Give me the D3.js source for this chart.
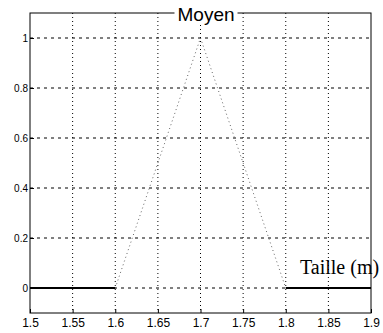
<!DOCTYPE html>
<html>
<head>
<meta charset="utf-8">
<script src="https://cdn.jsdelivr.net/npm/d3@7/dist/d3.min.js"></script>
<style>
  html, body { margin: 0; padding: 0; background: #fff; }
  svg { display: block; }
</style>
</head>
<body>
<svg id="chart" width="383" height="333"></svg>
<script>
// Membership function "Moyen" over height (m)
const tailles = [1.5, 1.6, 1.7, 1.8, 1.9];
const degres  = [0, 0, 1, 0, 0];
const xTicks  = [1.5, 1.55, 1.6, 1.65, 1.7, 1.75, 1.8, 1.85, 1.9];
const xTickLabels = ["1.5", "1.55", "1.6", "1.65", "1.7", "1.75", "1.8", "1.85", "1.9"];
const yTicks  = [0, 0.2, 0.4, 0.6, 0.8, 1];
const yTickLabels = ["0", "0.2", "0.4", "0.6", "0.8", "1"];
const titre = "Moyen";
const axeLabel = "Taille (m)";

const svg = d3.select("#chart");
const mLeft = 30, mRight = 371, mTop = 13, mBottom = 313;

const x = d3.scaleLinear().domain([1.5, 1.9]).range([mLeft, mRight]);
const y = d3.scaleLinear().domain([-0.1, 1.1]).range([mBottom, mTop]);

// grid
const grid = svg.append("g");
grid.selectAll("line.v").data(xTicks.slice(1, -1)).join("line")
  .attr("class", "v")
  .attr("x1", d => x(d)).attr("x2", d => x(d))
  .attr("y1", mTop).attr("y2", mBottom)
  .attr("stroke", "#000").attr("stroke-width", 1)
  .attr("stroke-dasharray", "1,3");
grid.selectAll("line.h").data(yTicks).join("line")
  .attr("class", "h")
  .attr("x1", mLeft).attr("x2", mRight)
  .attr("y1", d => y(d)).attr("y2", d => y(d))
  .attr("stroke", "#000").attr("stroke-width", 1)
  .attr("stroke-dasharray", "3,4");

// axes
const xAxis = d3.axisBottom(x).tickValues(xTicks)
  .tickFormat((d, i) => xTickLabels[i]).tickSize(-4).tickPadding(5);
const yAxis = d3.axisLeft(y).tickValues(yTicks)
  .tickFormat((d, i) => yTickLabels[i]).tickSize(-4).tickPadding(2);

const gx = svg.append("g").attr("transform", `translate(0,${mBottom})`).call(xAxis);
const gy = svg.append("g").attr("transform", `translate(${mLeft},0)`).call(yAxis);
[gx, gy].forEach(g => {
  g.select(".domain").remove();
  g.selectAll("line").attr("stroke", "#000");
  g.selectAll("text").attr("fill", "#000")
    .style("font-family", "Liberation Sans, Arial, sans-serif");
});
gx.selectAll("text").style("font-size", "12px");
gy.selectAll("text").style("font-size", "10px");

// frame
svg.append("rect")
  .attr("x", mLeft).attr("y", mTop)
  .attr("width", mRight - mLeft).attr("height", mBottom - mTop)
  .attr("fill", "none").attr("stroke", "#000").attr("stroke-width", 1);

// membership curve: flat parts solid, slopes dotted
const pts = tailles.map((t, i) => [t, degres[i]]);
for (let i = 0; i < pts.length - 1; i++) {
  const a = pts[i], b = pts[i + 1];
  const flat = a[1] === b[1];
  svg.append("line")
    .attr("x1", x(a[0])).attr("y1", y(a[1]))
    .attr("x2", x(b[0])).attr("y2", y(b[1]))
    .attr("stroke", flat ? "#000" : "#666")
    .attr("stroke-width", flat ? 2 : 1)
    .attr("stroke-dasharray", flat ? null : "1,3");
}

// title on the top edge
const titleBg = svg.append("rect").attr("fill", "#fff");
const tt = svg.append("text")
  .attr("x", 206).attr("y", 21)
  .attr("text-anchor", "middle")
  .style("font-family", "Liberation Sans, Arial, sans-serif")
  .style("font-size", "19px")
  .text(titre);
const bb = tt.node().getBBox();
titleBg.attr("x", bb.x - 3).attr("y", bb.y)
  .attr("width", bb.width + 6).attr("height", bb.height);

// axis label
svg.append("text")
  .attr("x", 300).attr("y", 274)
  .style("font-family", "Liberation Serif, Times New Roman, serif")
  .style("font-size", "20px")
  .text(axeLabel);
</script>
</body>
</html>
